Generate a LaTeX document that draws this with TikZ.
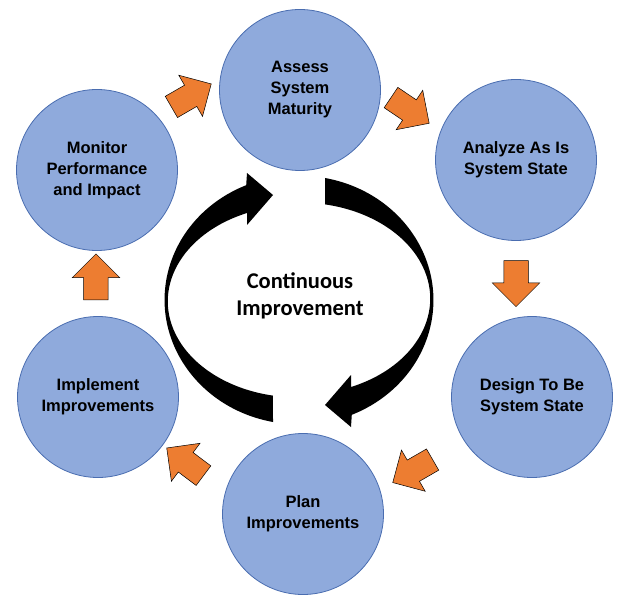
\documentclass[tikz,border=0pt]{standalone}
\usepackage{fontspec}
\setmainfont{Liberation Sans}
\newfontfamily\calfont{Carlito}
\usepackage{tikz}
\usetikzlibrary{shapes.arrows}

\definecolor{stageblue}{HTML}{8FAADC}
\definecolor{stageedge}{HTML}{4A6DB0}
\definecolor{flow}{HTML}{ED7D31}

\begin{document}
\begin{tikzpicture}[x=1pt, y=1pt,
  stage/.style={circle, fill=stageblue, draw=stageedge, line width=0.8pt, minimum size=161pt, inner sep=0pt, align=center, font=\bfseries\fontsize{16.5}{21}\selectfont},
  flowarrow/.style={single arrow, fill=flow, draw=black, line width=0.5pt, minimum height=46pt, inner xsep=0pt, inner ysep=12pt, single arrow head extend=11.5pt}]
  \useasboundingbox (-299,-294) rectangle (321,300);
  \node[stage] (assess) at (1,210) {Assess\\System\\Maturity};
  \node[stage] (analyze) at (217,140) {Analyze As Is\\System State};
  \node[stage] (design) at (233,-97) {Design To Be\\System State};
  \node[stage] (plan) at (4,-214) {Plan\\Improvements};
  \node[stage] (implement) at (-201,-97) {Implement\\Improvements};
  \node[stage] (monitor) at (-202,130) {Monitor\\Performance\\and Impact};

  \node[flowarrow, rotate=30] (monitor-assess) at (-113,201.5) {};
  \node[flowarrow, rotate=-34] (assess-analyze) at (106,193) {};
  \node[flowarrow, rotate=-90] (analyze-design) at (217,22.5) {};
  \node[flowarrow, rotate=210] (design-plan) at (119,-168) {};
  \node[flowarrow, rotate=143] (plan-implement) at (-109,-165.5) {};
  \node[flowarrow, rotate=90] (implement-monitor) at (-203,17) {};

  \foreach \r in {0,180}
    \fill[black, rotate=\r] (-26,-122) arc[start angle=259, end angle=113, x radius=134, y radius=124.5]
      -- (-52,127) -- (-26,105) -- (-52,75) -- (-52,87)
      arc[start angle=113, end angle=259, x radius=130, y radius=96] -- cycle;
  \node[font=\calfont\bfseries\fontsize{22.5}{27}\selectfont, align=center] (ci) at (1,4.5) {Continuous\\Improvement};
\end{tikzpicture}
\end{document}
